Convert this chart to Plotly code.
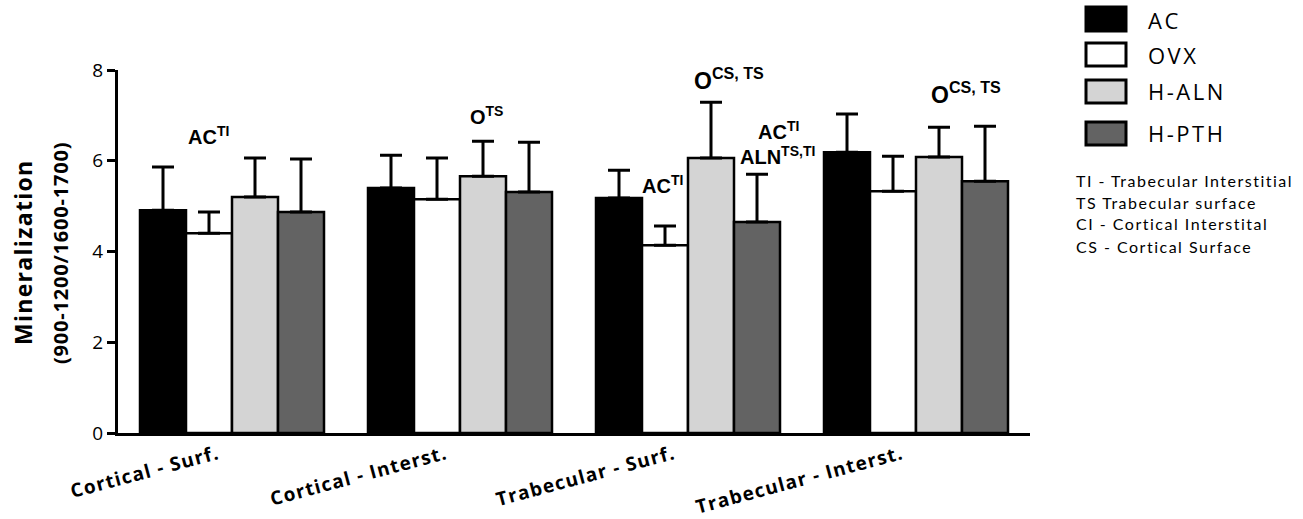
import plotly.graph_objects as go

categories = ["Cortical - Surf.", "Cortical - Interst.", "Trabecular - Surf.", "Trabecular - Interst."]
series_names = ["AC", "OVX", "H-ALN", "H-PTH"]
series_colors = ["#000000", "#ffffff", "#d4d4d4", "#636363"]

mean_AC = [4.91, 5.40, 5.18, 6.19]
mean_OVX = [4.40, 5.15, 4.14, 5.33]
mean_HALN = [5.20, 5.66, 6.06, 6.08]
mean_HPTH = [4.87, 5.31, 4.65, 5.55]

sd_AC = [0.95, 0.72, 0.61, 0.84]
sd_OVX = [0.47, 0.91, 0.42, 0.77]
sd_HALN = [0.86, 0.77, 1.23, 0.66]
sd_HPTH = [1.17, 1.10, 1.05, 1.21]

means = [mean_AC, mean_OVX, mean_HALN, mean_HPTH]
sds = [sd_AC, sd_OVX, sd_HALN, sd_HPTH]

footnotes = ["TI - Trabecular Interstitial", "TS Trabecular surface",
             "CI - Cortical Interstital", "CS - Cortical Surface"]

# significance labels: (group index, series index, text, font size, xshift px, y value)
sig_labels = [
    (0, 1, "AC<sup>TI</sup>", 20, -1, 6.55),
    (1, 2, "O<sup>TS</sup>", 20, 3, 7.0),
    (2, 1, "AC<sup>TI</sup>", 20, -3, 5.48),
    (2, 2, "O<sup>CS, TS</sup>", 23, 18, 7.80),
    (2, 3, "AC<sup>TI</sup>", 20, 21, 6.66),
    (2, 3, "ALN<sup>TS,TI</sup>", 20, 20, 6.11),
    (3, 2, "O<sup>CS, TS</sup>", 23, 27, 7.50),
]

W, H = 1303, 519
L, R, T, B = 118, 273, 70, 86
PW, PH = W - L - R, H - T - B
BARGAP = 0.193
OS = "Open Sans, sans-serif"


def px(xp):
    return (xp - L) / PW


def py(yp):
    return (H - B - yp) / PH


def spaced(t, sp):
    return '<span style="letter-spacing:%spx">%s</span>' % (sp, t)


fig = go.Figure()
for name, col, m, s in zip(series_names, series_colors, means, sds):
    fig.add_trace(go.Bar(
        x=categories, y=m, name=name,
        marker=dict(color=col, line=dict(color="black", width=2.5)),
        error_y=dict(type="data", array=s, arrayminus=[0] * len(s), symmetric=False,
                     color="black", thickness=3, width=11),
        showlegend=False,
    ))

bw = (1 - BARGAP) / len(series_names)
annotations = []
for g, si, txt, fs, xs, yv in sig_labels:
    annotations.append(dict(
        x=g + (si - 1.5) * bw, y=yv, xref="x", yref="y", text="<b>" + txt + "</b>",
        showarrow=False, xshift=xs, xanchor="center", yanchor="middle",
        font=dict(family="Liberation Sans, Arial, sans-serif", size=fs, color="black"),
    ))

# y-axis title (two lines)
annotations.append(dict(x=px(23), y=py(253), xref="paper", yref="paper", textangle=-90,
                        text="<b>" + spaced("Mineralization", 1.3) + "</b>", showarrow=False,
                        font=dict(family=OS, size=23, color="black"),
                        xanchor="center", yanchor="middle"))
annotations.append(dict(x=px(60), y=py(253), xref="paper", yref="paper", textangle=-90,
                        text="<b>" + spaced("(900-1200/1600-1700)", 0.8) + "</b>", showarrow=False,
                        font=dict(family=OS, size=20, color="black"),
                        xanchor="center", yanchor="middle"))

# custom legend
shapes = []
sw_y = [(7, 31), (43, 66), (80, 103), (122, 145)]
txt_y = [20, 55, 91, 133]
for (y0, y1), ty, name, col in zip(sw_y, txt_y, series_names, series_colors):
    shapes.append(dict(type="rect", xref="paper", yref="paper",
                       x0=px(1086), x1=px(1126), y0=py(y1), y1=py(y0),
                       fillcolor=col, line=dict(color="black", width=3)))
    annotations.append(dict(x=px(1146), y=py(ty), xref="paper", yref="paper",
                            text=spaced(name, 2.5), showarrow=False, xanchor="left", yanchor="middle",
                            font=dict(family=OS, size=22, color="black")))

for i, ft in enumerate(footnotes):
    annotations.append(dict(x=px(1074), y=py(180 + i * 22), xref="paper", yref="paper",
                            text=spaced(ft, 1.5), showarrow=False, xanchor="left", yanchor="middle",
                            font=dict(family="Lato", size=16, color="black")))

fig.update_layout(
    width=W, height=H,
    margin=dict(l=L, r=R, t=T, b=B, pad=0, autoexpand=False),
    paper_bgcolor="white", plot_bgcolor="white",
    barmode="group", bargap=BARGAP, bargroupgap=0,
    annotations=annotations, shapes=shapes,
    showlegend=False,
)
fig.update_xaxes(
    showline=True, linecolor="black", linewidth=3, ticks="", showgrid=False,
    tickangle=-15, ticklabelshift=-14, automargin=False,
    tickvals=categories, ticktext=[spaced(c, 1.2) for c in categories],
    tickfont=dict(family=OS, size=19, color="black", weight="bold"),
    range=[-0.5, 3.5],
)
fig.update_yaxes(
    range=[0, 8], tickvals=[0, 2, 4, 6, 8], showline=True, linecolor="black", linewidth=3,
    ticks="outside", ticklen=8, tickwidth=3, tickcolor="black", showgrid=False, zeroline=False,
    automargin=False,
    tickfont=dict(family=OS, size=19, color="black"),
)

fig.write_html("out.html")
